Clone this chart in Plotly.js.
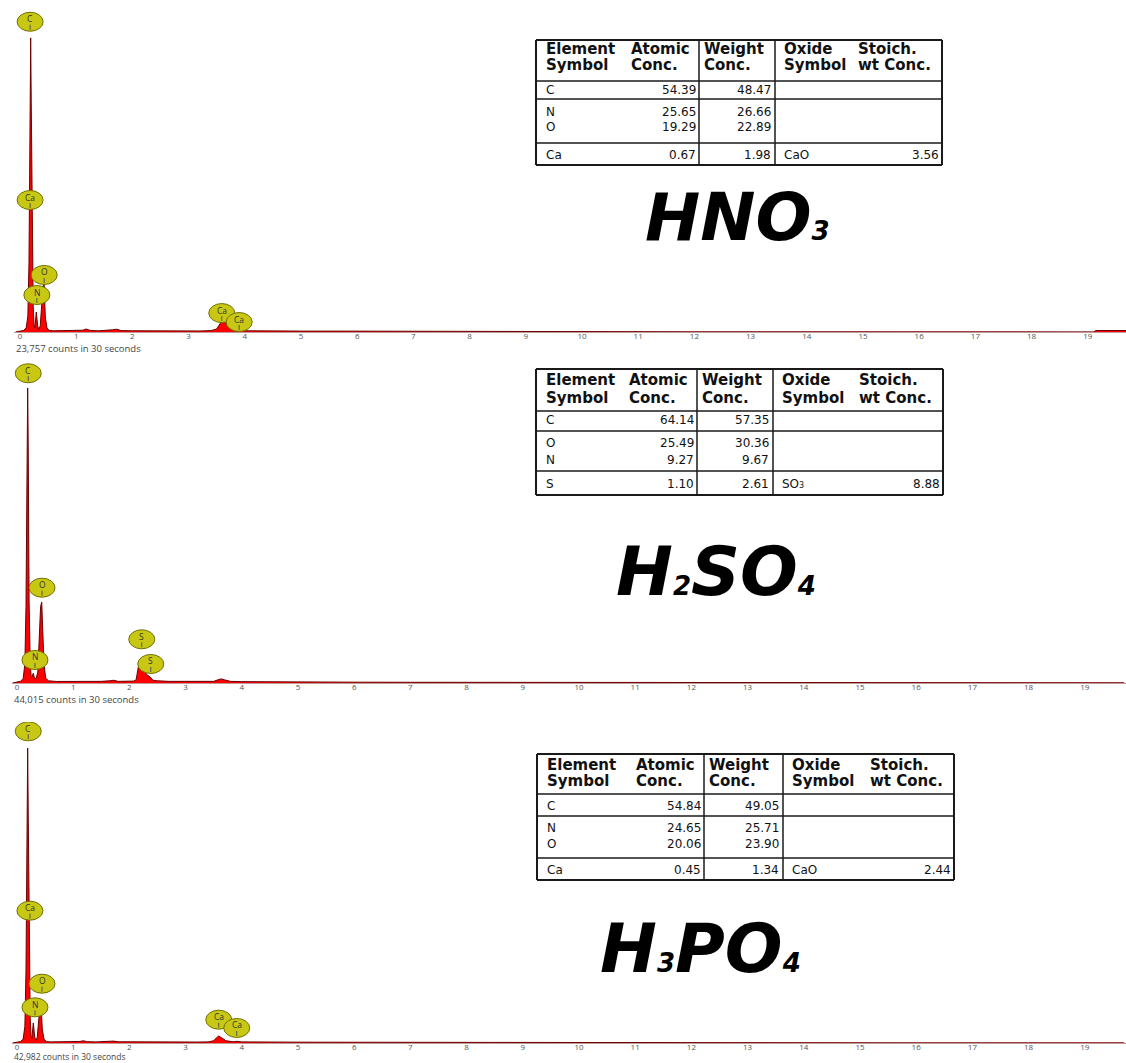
<!DOCTYPE html>
<html><head><meta charset="utf-8">
<script src="https://cdn.plot.ly/plotly-3.0.1.min.js"></script>
<style>html,body{margin:0;padding:0;background:#fff}#chart{width:1126px;height:1063px}</style>
</head><body><div id="chart"></div>
<script>
// ---------------- DATA ----------------
const energyTicks = [0,1,2,3,4,5,6,7,8,9,10,11,12,13,14,15,16,17,18,19];
const countTexts = ['23,757 counts in 30 seconds','44,015 counts in 30 seconds','42,982 counts in 30 seconds'];
const acidNames = ['HNO₃','H₂SO₄','H₃PO₄'];

// HNO3 spectrum (keV, counts)
const hno3E = [-0.08,0.0,0.06,0.11,0.14,0.16,0.17,0.18,0.19,0.2,0.215,0.235,0.25,0.265,0.29,0.315,0.335,0.36,0.39,0.41,0.43,0.45,0.48,0.52,0.6,0.8,1.0,1.12,1.18,1.25,1.4,1.55,1.65,1.72,1.8,2.0,2.3,2.6,2.9,3.2,3.4,3.5,3.56,3.6,3.66,3.75,3.85,3.92,4.0,4.2,4.6,5.0,5.5,6.0,7.0,8.0,9.0,10,12,14,16,18,19.1,19.15,19.7];
const hno3C = [0,8,15,40,160,700,1600,2600,2950,2300,900,250,70,40,200,60,25,60,300,460,480,150,40,15,12,14,12,18,30,15,12,15,22,28,14,12,14,10,11,10,14,30,80,120,90,30,15,22,12,10,10,9,9,8,7,6,4,3,2,2,2,1,1,15,15];
const hno3LblEl = ['C','Ca','O','N','Ca','Ca'];
const hno3LblE = [0.18,0.18,0.43,0.30,3.59,3.90];
const hno3LblC = [3112,1324,572,371,190,100];

// H2SO4 spectrum
const h2so4E = [-0.08,0.0,0.06,0.11,0.14,0.16,0.17,0.18,0.19,0.2,0.215,0.235,0.25,0.27,0.29,0.31,0.34,0.37,0.4,0.42,0.44,0.46,0.48,0.51,0.56,0.7,0.9,1.1,1.3,1.5,1.65,1.72,1.8,1.95,2.08,2.12,2.16,2.2,2.25,2.3,2.37,2.42,2.5,2.7,3.0,3.3,3.5,3.58,3.63,3.7,3.8,4.0,4.5,5.0,6.0,7.0,8.0,10,12,15,19.7];
const h2so4C = [0,15,30,80,350,1400,3200,4700,5400,4300,1500,400,140,110,180,90,80,200,800,1400,1480,1000,350,90,40,28,26,30,28,30,40,50,30,30,35,60,300,385,340,160,110,50,40,30,28,27,30,60,75,55,30,25,20,18,15,13,12,9,7,5,4];
const h2so4LblEl = ['C','O','N','S','S'];
const h2so4LblE = [0.20,0.445,0.32,2.22,2.38];
const h2so4LblC = [5668,1744,421,800,348];

// H3PO4 spectrum
const h3po4E = [-0.08,0.0,0.06,0.11,0.14,0.16,0.17,0.18,0.19,0.2,0.215,0.235,0.25,0.265,0.29,0.315,0.335,0.36,0.39,0.41,0.43,0.45,0.48,0.52,0.6,0.8,1.0,1.12,1.18,1.25,1.4,1.55,1.65,1.72,1.8,2.0,2.3,2.6,2.9,3.2,3.4,3.5,3.55,3.59,3.64,3.72,3.85,3.92,4.0,4.2,4.6,5.0,5.5,6.0,7.0,8.0,9.0,10,12,14,16,18,19.7];
const h3po4C = [0,15,25,70,300,1300,3000,4600,5300,4100,1600,450,130,80,360,110,45,100,450,640,665,250,70,25,20,22,20,28,40,24,20,24,30,34,22,20,22,18,18,17,20,40,95,125,95,40,22,30,20,17,16,15,14,13,11,9,7,5,4,3,3,3,3];
const h3po4LblEl = ['C','Ca','O','N','Ca','Ca'];
const h3po4LblE = [0.20,0.23,0.445,0.32,3.59,3.91];
const h3po4LblC = [5601,2378,1066,641,419,270];

// Tables
const headRow1 = ['Element','Atomic','Weight','Oxide','Stoich.'];
const headRow2 = ['Symbol','Conc.','Conc.','Symbol','wt Conc.'];

const hno3Elements = ['C','N','O','Ca'];
const hno3Atomic = ['54.39','25.65','19.29','0.67'];
const hno3Weight = ['48.47','26.66','22.89','1.98'];
const hno3Oxide = ['','','','CaO'];
const hno3Stoich = ['','','','3.56'];

const h2so4Elements = ['C','O','N','S'];
const h2so4Atomic = ['64.14','25.49','9.27','1.10'];
const h2so4Weight = ['57.35','30.36','9.67','2.61'];
const h2so4Oxide = ['','','','SO₃'];
const h2so4Stoich = ['','','','8.88'];

const h3po4Elements = ['C','N','O','Ca'];
const h3po4Atomic = ['54.84','24.65','20.06','0.45'];
const h3po4Weight = ['49.05','25.71','23.90','1.34'];
const h3po4Oxide = ['','','','CaO'];
const h3po4Stoich = ['','','','2.44'];

// ---------------- LAYOUT HELPERS ----------------
const W = 1126, H = 1063, PXKEV = 56.2;
const px = p => p / W;
const py = p => 1 - p / H;
const subMap = {'₀':'0','₁':'1','₂':'2','₃':'3','₄':'4','₅':'5','₆':'6','₇':'7','₈':'8','₉':'9'};
function subs(s, size) {
  return s.replace(/[₀-₉]/g, c => '<span style="font-size:' + size + 'px">' + subMap[c] + '</span>');
}

const panels = [
  {E:hno3E, C:hno3C, el:hno3LblEl, le:hno3LblE, lc:hno3LblC, base:332, top:5, zero:20, dom0:14, yMax:3280, countY:349, countSize:9.5,
   tbl:{el:hno3Elements, at:hno3Atomic, wt:hno3Weight, ox:hno3Oxide, st:hno3Stoich,
        left:536, v1:699, v2:775, right:942, top:40, bottom:165, hl:[81,99,143], rows:[49,65,90,112,127,155]},
   acid:{cx:737, cy:217, size:66}},
  {E:h2so4E, C:h2so4C, el:h2so4LblEl, le:h2so4LblE, lc:h2so4LblC, base:683, top:362, zero:17, dom0:12, yMax:5874, countY:699, countSize:9.5,
   tbl:{el:h2so4Elements, at:h2so4Atomic, wt:h2so4Weight, ox:h2so4Oxide, st:h2so4Stoich,
        left:536, v1:697, v2:773, right:943, top:369, bottom:495, hl:[411,431,471], rows:[380,398,420,443,460,484]},
   acid:{cx:716, cy:571, size:68}},
  {E:h3po4E, C:h3po4C, el:h3po4LblEl, le:h3po4LblE, lc:h3po4LblC, base:1043, top:722, zero:17, dom0:12, yMax:5768, countY:1056.5, countSize:8.5,
   tbl:{el:h3po4Elements, at:h3po4Atomic, wt:h3po4Weight, ox:h3po4Oxide, st:h3po4Stoich,
        left:537, v1:704, v2:783, right:954, top:754, bottom:880, hl:[794,816,858], rows:[765,781,806,828,844,870]},
   acid:{cx:700, cy:948, size:68}}
];

const traces = [];
const layout = {
  width: W, height: H, margin:{l:0,r:0,t:0,b:0},
  paper_bgcolor:'#ffffff', plot_bgcolor:'rgba(0,0,0,0)',
  showlegend:false, hovermode:false,
  shapes:[], annotations:[]
};
const lineCol = '#1a1a1a';

panels.forEach((p, i) => {
  const n = i === 0 ? '' : String(i + 1);
  const xa = 'x' + n, ya = 'y' + n;
  traces.push({
    type:'scatter', mode:'lines', x:p.E, y:p.C, xaxis:xa, yaxis:ya,
    fill:'tozeroy', fillcolor:'#ff0000', line:{color:'#6a0000', width:1}
  });
  layout['xaxis' + n] = {
    domain:[p.dom0 / W, 1], anchor:ya,
    range:[(p.dom0 - p.zero) / PXKEV, (W - p.zero) / PXKEV],
    tickvals:energyTicks, ticktext:energyTicks.map(String),
    ticks:'', ticklabelstandoff:-4,
    tickfont:{family:'Open Sans', size:8, color:'#555'},
    showgrid:false, zeroline:false, showline:true, linecolor:'#c09a9a', linewidth:1, fixedrange:true
  };
  layout['yaxis' + n] = {
    domain:[py(p.base), py(p.top)], anchor:xa, range:[0, p.yMax], visible:false, fixedrange:true
  };
  // element markers
  p.el.forEach((el, k) => {
    layout.shapes.push({type:'circle', xref:xa, yref:ya, xsizemode:'pixel', ysizemode:'pixel',
      xanchor:p.le[k], yanchor:p.lc[k], x0:-13, x1:13, y0:-9.5, y1:9.5,
      fillcolor:'#c8c814', line:{color:'#707000', width:1}});
    layout.shapes.push({type:'line', xref:xa, yref:ya, xsizemode:'pixel', ysizemode:'pixel',
      xanchor:p.le[k], yanchor:p.lc[k], x0:0, x1:0, y0:-3, y1:-8,
      line:{color:'#555', width:1}});
    layout.annotations.push({xref:xa, yref:ya, x:p.le[k], y:p.lc[k], text:el, showarrow:false,
      yshift:3, font:{family:'Open Sans', size:8.5, color:'#333'}});
  });
  // counts text
  layout.annotations.push({xref:'paper', yref:'paper', x:px(p.dom0), y:py(p.countY), xanchor:'left', yanchor:'middle',
    text:countTexts[i], showarrow:false, font:{family:'Open Sans', size:p.countSize, color:'#444'}});
  // table
  const t = p.tbl;
  const L = (x0,y0,x1,y1,w) => layout.shapes.push({type:'line', xref:'paper', yref:'paper',
    x0:px(x0), y0:py(y0), x1:px(x1), y1:py(y1), line:{color:lineCol, width:w}});
  L(t.left, t.top, t.right, t.top, 2);
  L(t.left, t.bottom, t.right, t.bottom, 2);
  L(t.left, t.top, t.left, t.bottom, 2);
  L(t.right, t.top, t.right, t.bottom, 2);
  L(t.v1, t.top, t.v1, t.bottom, 1.5);
  L(t.v2, t.top, t.v2, t.bottom, 1.5);
  t.hl.forEach(h => L(t.left, h, t.right, h, 1.5));
  const hx = [t.left + 8, t.v1 - 70, t.v1 + 3, t.v2 + 7, t.right - 86];
  const headFont = {family:'DejaVu Sans', size:15, color:'#111', weight:700};
  [headRow1, headRow2].forEach((row, r) => {
    row.forEach((txt, c) => layout.annotations.push({xref:'paper', yref:'paper', x:px(hx[c]), y:py(t.rows[r]),
      xanchor:'left', yanchor:'middle', text:txt, showarrow:false, font:headFont}));
  });
  const cellFont = {family:'DejaVu Sans', size:12, color:'#111'};
  t.el.forEach((el, r) => {
    const yy = py(t.rows[r + 2]);
    const add = (txt, x, anch) => { if (txt) layout.annotations.push({xref:'paper', yref:'paper', x:px(x), y:yy,
      xanchor:anch, yanchor:'middle', text:subs(txt, 8), showarrow:false, font:cellFont}); };
    add(el, t.left + 8, 'left');
    add(t.at[r], t.v1 - 1, 'right');
    add(t.wt[r], t.v2 - 2, 'right');
    add(t.ox[r], t.v2 + 7, 'left');
    add(t.st[r], t.right - 1, 'right');
  });
  // acid formula
  layout.annotations.push({xref:'paper', yref:'paper', x:px(p.acid.cx), y:py(p.acid.cy), xanchor:'center', yanchor:'middle',
    text:subs(acidNames[i], 26), showarrow:false,
    font:{family:'DejaVu Sans', size:p.acid.size, color:'#000', weight:700, style:'italic'}});
});

Plotly.newPlot('chart', traces, layout, {staticPlot:true, displayModeBar:false});
</script>
</body></html>
